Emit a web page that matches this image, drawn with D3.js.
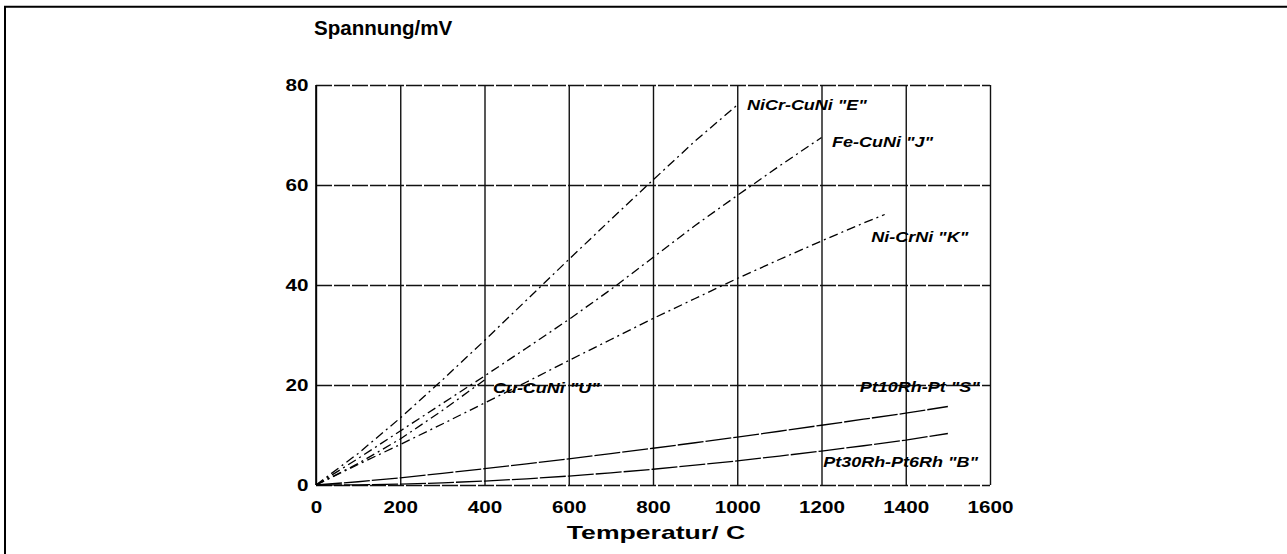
<!DOCTYPE html>
<html>
<head>
<meta charset="utf-8">
<script src="https://cdn.jsdelivr.net/npm/d3@7"></script>
<style>
  html, body { margin: 0; padding: 0; background: #fff; }
  svg { display: block; font-family: "Liberation Sans", Arial, sans-serif; }
</style>
</head>
<body>
<svg id="chart" width="1287" height="554"></svg>
<script>
const xTicks = [0, 200, 400, 600, 800, 1000, 1200, 1400, 1600];
const yTicks = [0, 20, 40, 60, 80];

const seriesNames = ['NiCr-CuNi "E"', 'Fe-CuNi "J"', 'Ni-CrNi "K"', 'Cu-CuNi "U"', 'Pt10Rh-Pt "S"', 'Pt30Rh-Pt6Rh "B"'];

const tempsE = [0, 100, 200, 300, 400, 500, 600, 700, 800, 900, 1000];
const voltsE = [0, 6.3, 13.4, 21.0, 28.9, 37.0, 45.1, 53.1, 61.0, 68.8, 76.0];

const tempsJ = [0, 100, 200, 300, 400, 500, 600, 700, 800, 900, 1000, 1100, 1200];
const voltsJ = [0, 5.3, 10.8, 16.3, 21.8, 27.4, 33.1, 39.1, 45.5, 51.9, 57.9, 63.8, 69.5];

const tempsK = [0, 100, 200, 300, 400, 500, 600, 700, 800, 900, 1000, 1100, 1200, 1300, 1350];
const voltsK = [0, 4.1, 8.1, 12.2, 16.4, 20.6, 24.9, 29.1, 33.3, 37.3, 41.3, 45.1, 48.8, 52.4, 54.1];

const tempsU = [0, 100, 200, 300, 400];
const voltsU = [0, 4.3, 9.2, 14.9, 21.0];

const tempsS = [0, 100, 200, 300, 400, 500, 600, 700, 800, 900, 1000, 1100, 1200, 1300, 1400, 1500];
const voltsS = [0, 0.65, 1.44, 2.32, 3.26, 4.23, 5.24, 6.27, 7.35, 8.45, 9.59, 10.75, 11.95, 13.16, 14.37, 15.7];

const tempsB = [0, 100, 200, 300, 400, 500, 600, 700, 800, 900, 1000, 1100, 1200, 1300, 1400, 1500];
const voltsB = [0, 0.03, 0.18, 0.43, 0.79, 1.24, 1.79, 2.43, 3.15, 3.96, 4.83, 5.78, 6.79, 7.85, 8.96, 10.3];

// where each curve name sits, in data units (temperature, mV)
const labelTemps = [1023, 1225, 1318, 420, 1291, 1204];
const labelVolts = [75.1, 67.7, 48.7, 18.4, 18.6, 3.7];

const allTemps = [tempsE, tempsJ, tempsK, tempsU, tempsS, tempsB];
const allVolts = [voltsE, voltsJ, voltsK, voltsU, voltsS, voltsB];
const dashes = ["9,4,2,4", "9,4,2,4", "9,4,2,4", "9,4,2,4", "26,2", "26,2"];

const svg = d3.select("#chart");

const x = d3.scaleLinear().domain([0, 1600]).range([316, 990]);
const y = d3.scaleLinear().domain([0, 80]).range([485, 85]);

// frame of the scanned page (top and left edge only)
svg.append("path")
  .attr("d", "M5,554V6.7H1287")
  .attr("fill", "none")
  .attr("stroke", "#000")
  .attr("stroke-width", 2);

svg.append("text")
  .attr("x", 314)
  .attr("y", 35)
  .attr("font-size", 21)
  .attr("font-weight", "bold")
  .attr("transform", "translate(314,0) scale(0.98,1) translate(-314,0)")
  .text("Spannung/mV");

const xAxis = svg.append("g")
  .attr("transform", `translate(0,${y(0)})`)
  .call(d3.axisBottom(x)
    .tickValues(xTicks)
    .tickSize(-(y(0) - y(80)))
    .tickPadding(16)
    .tickFormat(d3.format("d")));

xAxis.select(".domain").remove();
xAxis.selectAll("line")
  .attr("stroke", "#111")
  .attr("stroke-width", 1.4);
xAxis.selectAll("text")
  .attr("fill", "#000")
  .attr("font-size", 16.5)
  .attr("font-weight", "bold")
  .attr("font-family", "Liberation Sans, Arial, sans-serif")
  .attr("transform", "scale(1.25,1)");

const yAxis = svg.append("g")
  .attr("transform", `translate(${x(0)},0)`)
  .call(d3.axisLeft(y)
    .tickValues(yTicks)
    .tickSize(-(x(1600) - x(0)))
    .tickPadding(6)
    .tickFormat(d3.format("d")));

yAxis.select(".domain").remove();
yAxis.selectAll("line")
  .attr("stroke", "#111")
  .attr("stroke-width", 1.4)
  .attr("stroke-dasharray", "16,2");
yAxis.selectAll("text")
  .attr("fill", "#000")
  .attr("font-size", 16.5)
  .attr("font-weight", "bold")
  .attr("font-family", "Liberation Sans, Arial, sans-serif")
  .attr("transform", "scale(1.25,1)");

// solid left axis
svg.append("line")
  .attr("x1", x(0)).attr("x2", x(0))
  .attr("y1", y(0)).attr("y2", y(80))
  .attr("stroke", "#000")
  .attr("stroke-width", 1.6);

const line = d3.line()
  .x((d) => x(d[0]))
  .y((d) => y(d[1]));

svg.append("g")
  .selectAll("path")
  .data(seriesNames)
  .join("path")
  .attr("d", (name, i) => line(d3.zip(allTemps[i], allVolts[i])))
  .attr("fill", "none")
  .attr("stroke", "#000")
  .attr("stroke-width", 1.3)
  .attr("stroke-dasharray", (name, i) => dashes[i]);

svg.append("g")
  .selectAll("text")
  .data(seriesNames)
  .join("text")
  .attr("transform", (name, i) =>
    `translate(${x(labelTemps[i])},${y(labelVolts[i])}) scale(1.2,1)`)
  .attr("font-size", 15)
  .attr("font-weight", "bold")
  .attr("font-style", "italic")
  .text((name) => name);

svg.append("text")
  .attr("transform", "translate(656,539) scale(1.4,1)")
  .attr("text-anchor", "middle")
  .attr("font-size", 19)
  .attr("font-weight", "bold")
  .text("Temperatur/ C");
</script>
</body>
</html>
